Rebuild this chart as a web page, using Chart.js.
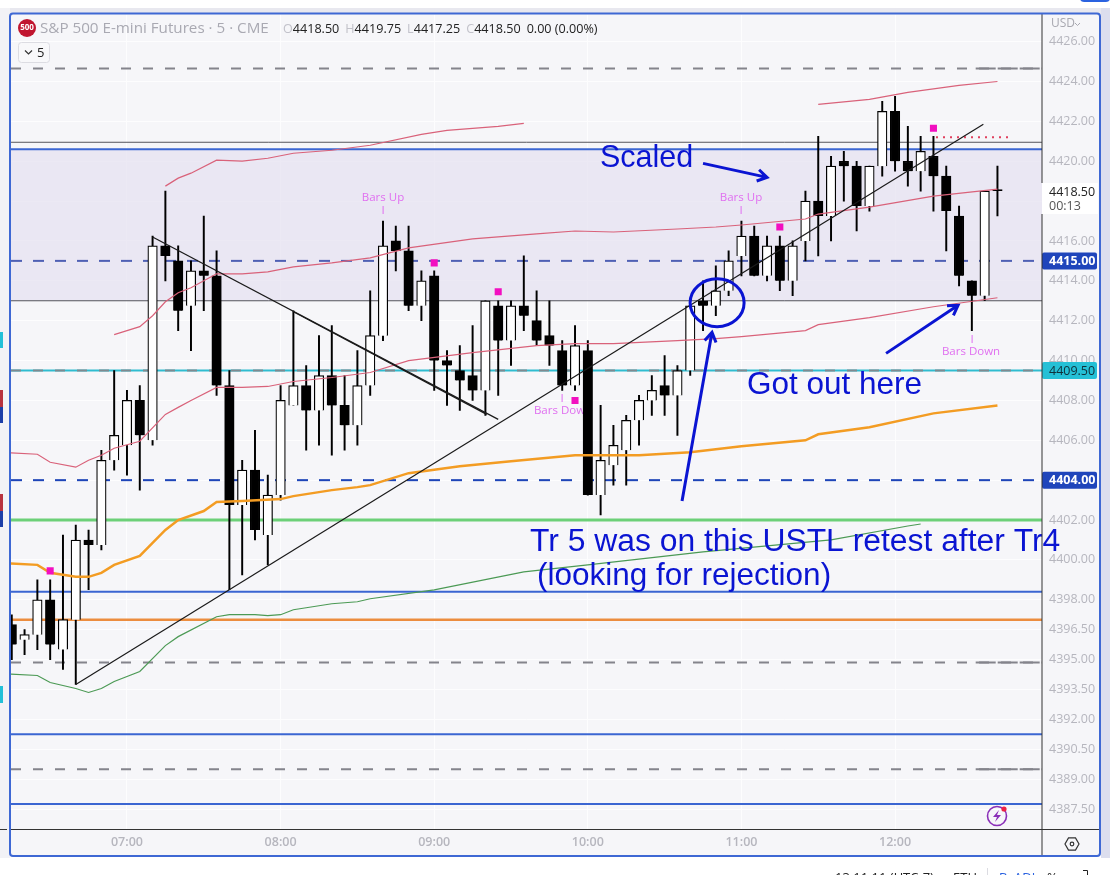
<!DOCTYPE html>
<html><head><meta charset="utf-8">
<style>html,body{margin:0;padding:0;background:#fff;overflow:hidden}canvas{display:block}</style>
<script src="https://cdn.jsdelivr.net/npm/chart.js@4"></script>
</head><body><canvas id="c" width="1110" height="875"></canvas>
<script>
// ---- bars (5 minute, index 0 = 06:15)
const opens=[4396.75,4396,4396.25,4398,4395.5,4397,4401,4400.75,4405,4405.75,4408,4406,4415.75,4415,4412.75,4414.5,4414.25,4408.75,4402.75,4404.5,4401.25,4403.25,4407.75,4408.75,4407.5,4409.25,4407.75,4406.75,4408.75,4411.25,4416,4415.5,4412.75,4414.25,4410,4409.5,4409.25,4408.5,4412.75,4411,4412.75,4412,4411.25,4410.5,4408.75,4410.5,4403.25,4404.75,4405.5,4407,4408,4408.75,4408.25,4409.5,4413,4412.75,4413.5,4415.25,4416.25,4414.25,4415.75,4414,4416,4418,4417.25,4420,4419.75,4417.75,4419.75,4422.5,4420,4419.5,4420.25,4419.25,4417.25,4414,4413.25,4418.5];
const highs=[4397.25,4396.5,4399,4399,4401.25,4401.75,4401.5,4405.5,4409.5,4408.5,4408.75,4416.25,4418.5,4415.75,4415,4417.25,4415.5,4409.5,4405,4406.5,4404.25,4408.75,4412.5,4409.75,4411.25,4411.75,4409.25,4410.5,4413.5,4417,4416.75,4416.75,4414.5,4414.5,4410.5,4410.75,4411.75,4413,4413,4413,4415.25,4413.5,4413,4411,4411.75,4411,4407.75,4406.75,4407.25,4408.25,4409.25,4410.25,4409.75,4412.75,4414,4414.75,4415.5,4417,4416.75,4416.25,4416.25,4416,4418.5,4421.25,4420.25,4420.5,4420,4419.75,4423,4423.25,4421.75,4421.25,4421.25,4419.75,4417.75,4414,4418.5,4419.75];
const lows=[4395,4395.25,4395.5,4395,4394.5,4393.75,4398.5,4400.5,4404.5,4404.25,4403.5,4405.75,4414,4411.5,4410.5,4412.5,4408.25,4398.5,4399.25,4401,4399.75,4403,4407.75,4405.5,4405.75,4405.25,4405.5,4405.75,4408.25,4411,4414.5,4412.5,4412,4408.5,4407.75,4407.5,4408,4407.25,4408.25,4409.75,4411.5,4410.75,4409.75,4408.5,4408.5,4403.25,4402.25,4403.75,4403.75,4405.75,4407.25,4407.25,4406.25,4409.25,4411.5,4412.25,4413.25,4414.25,4414.25,4414,4413.5,4413.25,4415,4415.25,4416,4418,4416.5,4417.5,4419.25,4419.5,4418.75,4418.5,4417.5,4415.5,4413.75,4411.5,4413,4417.25];
const closes=[4395.75,4396.25,4398,4395.75,4397,4401,4400.75,4405,4406.25,4408,4406.25,4415.75,4415.25,4412.5,4414.5,4414.25,4408.75,4402.75,4404.5,4401.5,4403.25,4408,4408.75,4407.5,4409.25,4407.75,4406.75,4408.75,4411.25,4415.75,4415.5,4412.75,4414,4410,4409.75,4409,4408.5,4413,4411,4412.75,4412.25,4411,4410.75,4408.75,4410.75,4403.25,4405,4405.75,4407,4408,4408.5,4408.25,4409.5,4412.75,4412.75,4413.5,4415,4416.25,4414.25,4415.75,4414,4415.75,4418,4417.25,4419.75,4419.75,4417.75,4419.75,4422.5,4420,4419.5,4420.5,4419.25,4417.5,4414.25,4413.25,4418.5,4418.5];

// ---- time axis
const hourIndex=[9,21,33,45,57,69];
const hourLabels=['07:00','08:00','09:00','10:00','11:00','12:00'];
// ---- price axis
const priceTicks=[4426,4424,4422,4420,4418,4416,4414,4412,4410,4408,4406,4404,4402,4400,4398,4396.5,4395,4393.5,4392,4390.5,4389,4387.5];

// ---- overlays: index + price
const upperA_i=[12,13,14,16,18,20,22,25,28,32,34,36,38,40];
const upperA_p=[4418.75,4419.15,4419.4,4420.05,4420,4420.15,4420.4,4420.55,4420.8,4421.35,4421.55,4421.65,4421.75,4421.9];
const upperB_i=[63,67,70,74,77];
const upperB_p=[4422.85,4423.1,4423.45,4423.8,4424];
const midBand_i=[8,10,11,12,13,14,16,18,20,22,25,28,31,36,41,44,47,52,55,57,62,63,67,72,77];
const midBand_p=[4411.3,4411.7,4412.25,4412.95,4413.4,4413.65,4414.35,4414.35,4414.45,4414.7,4414.9,4415.15,4415.65,4416.1,4416.35,4416.5,4416.45,4416.6,4416.7,4416.8,4417.1,4417.35,4417.7,4418.25,4418.6];
const lowBand_i=[-1,2,3,5,6,7,8,10,12,13,14,16,18,20,22,25,28,31,36,41,44,47,52,55,57,62,63,67,72,77];
const lowBand_p=[4405.4,4405.3,4404.9,4404.65,4405,4405.25,4405.6,4405.95,4407.3,4407.65,4408,4408.65,4408.65,4408.7,4408.95,4409.15,4409.4,4410,4410.4,4410.75,4410.85,4410.85,4411,4411.1,4411.2,4411.5,4411.8,4412.15,4412.7,4413.15];
const orange_i=[-1,2,3,5,6,7,8,10,12,13,15,16,18,21,22,25,27,28,31,35,39,44,49,53,57,62,63,67,72,77];
const orange_p=[4399.85,4399.75,4399.35,4399.15,4399.15,4399.35,4399.75,4400.2,4401.5,4402,4402.45,4402.9,4402.95,4403.05,4403.2,4403.5,4403.65,4403.75,4404.35,4404.7,4404.95,4405.25,4405.25,4405.4,4405.7,4406,4406.3,4406.65,4407.35,4407.75];
const green_i=[-1,2,3,5,6,7,8,10,12,13,16,17,19,20,21,22,23,25,27,28,33,40,45,54,64,70,71];
const green_p=[4394.3,4394.2,4393.85,4393.55,4393.35,4393.55,4393.9,4394.4,4395.7,4396.15,4397.15,4397.25,4397.25,4397.2,4397.25,4397.5,4397.6,4397.8,4397.9,4398.05,4398.5,4399.4,4399.75,4400.4,4401,4401.7,4401.8];
const markers_i=[3,33,38,44,60,72];
const markers_p=[4399.45,4414.9,4413.45,4408,4416.7,4421.65];
// ---- trend lines: [i1,p1,i2,p2]
const trendA=[11,4416.2,38,4407.05];
const trendB=[5,4393.75,75.9,4421.85];
const trendC=[22,4412.45,37.1,4407.3];
// ---- levels
const grayLevels=[4424.65,4394.85,4389.5];
const blueLevels=[4420.6,4398.4,4391.25,4387.75];
const blueDashLevels=[4415,4404];
const cyanLevel=4409.5, greenLevel=4402, orangeLevel=4397, thinLevels=[4420.95,4413];
const dottedLevel=[72.2,4421.2,78.2,4421.2];
const zone=[4420.6,4413];
// ---- drawn annotations in chart units
const arrows=[[54,4419.89,59,4419.19],[52.36,4402.95,54.7,4411.42],[68.3,4410.36,73.92,4412.77]];
const ringCentre=[55.1,4412.9];

const X_MIN=-0.06,X_MAX=80.48,Y_MIN=4386.5,Y_MAX=4427.36;
const pts=(a,b)=>a.map((v,k)=>({x:v,y:b[k]}));
const seg=t=>[{x:t[0],y:t[1]},{x:t[2],y:t[3]}];
const hline=(p,from)=>[{x:from===undefined?X_MIN:from,y:p},{x:X_MAX,y:p}];
const base={type:'line',pointRadius:0,tension:0,fill:false,clip:true};
const datasets=[];
datasets.push({...base,data:hline(zone[0]),fill:{value:zone[1]},backgroundColor:'rgba(231,228,241,0.8)',borderWidth:0,order:20});
grayLevels.forEach(p=>{
  datasets.push({...base,data:hline(p),borderColor:'#84848c',borderWidth:2,borderDash:[10,12],order:9});
  datasets.push({...base,data:hline(p,75.3),borderColor:'#84848c',borderWidth:2,borderDash:[20,2],order:9});
});
blueLevels.forEach(p=>datasets.push({...base,data:hline(p),borderColor:'#3b66d2',borderWidth:2,order:10}));
blueDashLevels.forEach((p,k)=>datasets.push({...base,data:hline(p),borderColor:k?'#1e45b8':'#4f60b4',borderWidth:2,borderDash:[11,11],order:10}));
thinLevels.forEach(p=>datasets.push({...base,data:hline(p),borderColor:'#55555c',borderWidth:1,order:10}));
datasets.push({...base,data:hline(cyanLevel),borderColor:'#2fbcd0',borderWidth:2,order:11});
datasets.push({...base,data:hline(cyanLevel),borderColor:'#7f8a90',borderWidth:2,borderDash:[10,12],order:10});
datasets.push({...base,data:hline(greenLevel),borderColor:'#6cd078',borderWidth:3,order:10});
datasets.push({...base,data:hline(orangeLevel),borderColor:'#ec8d3f',borderWidth:2.5,order:10});
datasets.push({...base,data:seg(dottedLevel),borderColor:'#e0405e',borderWidth:2,borderDash:[2,5],order:8});
// candles
datasets.push({type:'bar',label:'wick',grouped:false,order:5,barThickness:1.3,backgroundColor:'#000',
  data:highs.map((h,k)=>({x:k,y:[lows[k],h]}))});
datasets.push({type:'bar',label:'body',grouped:false,order:4,barThickness:9.5,minBarLength:1.5,borderColor:'#000',borderWidth:1.25,
  backgroundColor:opens.map((o,k)=>closes[k]>o?'#fff':'#000'),
  data:opens.map((o,k)=>({x:k,y:[Math.min(o,closes[k]),Math.max(o,closes[k])]}))});
// bands
[[upperA_i,upperA_p],[upperB_i,upperB_p],[midBand_i,midBand_p],[lowBand_i,lowBand_p]].forEach(a=>
  datasets.push({...base,data:pts(a[0],a[1]),borderColor:'#d9627a',borderWidth:1.2,order:3}));
datasets.push({...base,data:pts(orange_i,orange_p),borderColor:'#f39c23',borderWidth:2.5,order:3});
datasets.push({...base,data:pts(green_i,green_p),borderColor:'#4c9a55',borderWidth:1.2,order:3});
[trendA,trendB,trendC].forEach(t=>datasets.push({...base,data:seg(t),borderColor:'#1a1a1a',borderWidth:1.2,order:2}));
datasets.push({type:'scatter',data:pts(markers_i,markers_p),pointStyle:'rect',pointRadius:5,pointBackgroundColor:'#f20fc0',pointBorderWidth:0,order:1});

const UI='"Open Sans",sans-serif';
function box(g,x,y,w,h,col){g.fillStyle=col;g.beginPath();g.roundRect(x,y,w,h,2);g.fill();}
function text(g,s,x,y,font,col,al){g.font=font;g.fillStyle=col;g.textAlign=al||'left';g.textBaseline='middle';g.fillText(s,x,y);}

const chrome={id:'chrome',
 beforeDraw(ch){const g=ch.ctx;g.save();
  g.fillStyle='#fff';g.fillRect(0,0,1110,875);
  g.fillStyle='#e8e8ef';g.fillRect(0,8,1110,6);
  g.fillStyle='#f2f2f6';g.fillRect(0,8,10,850);
  g.fillStyle='#dcdeee';g.fillRect(1101,8,9,850);
  g.fillStyle='#f6f6f9';g.fillRect(11,14,1089,842);
  g.fillStyle='#2a62e0';g.beginPath();g.roundRect(1080,-6,30,8,4);g.fill();
  g.restore();},
 afterDatasetDraw(ch,args){ if(args.index!==0) return;
  const g=ch.ctx;g.save();
  g.beginPath();g.rect(ch.chartArea.left,ch.chartArea.top,ch.chartArea.width,ch.chartArea.height);g.clip();
  const pink='#e06ff0',f='11.5px '+UI;
  text(g,'Bars Up',383,198,f,pink,'center');text(g,'I',383,211,f,pink,'center');
  text(g,'Bars Up',741,198,f,pink,'center');text(g,'I',741,211,f,pink,'center');
  text(g,'I',562,399,f,pink,'center');text(g,'Bars Down',563,411,f,pink,'center');
  text(g,'I',972,340,f,pink,'center');text(g,'Bars Down',971,352,f,pink,'center');
  g.restore();},
 afterDatasetsDraw(ch){const g=ch.ctx,xs=ch.scales.x,ys=ch.scales.y;g.save();
  const blue='#0a14d2';
  g.strokeStyle=blue;g.lineWidth=3;
  g.beginPath();g.ellipse(xs.getPixelForValue(ringCentre[0]),ys.getPixelForValue(ringCentre[1]),27,24,0,0,Math.PI*2);g.stroke();
  arrows.forEach(a=>{const x1=xs.getPixelForValue(a[0]),y1=ys.getPixelForValue(a[1]),x2=xs.getPixelForValue(a[2]),y2=ys.getPixelForValue(a[3]);
   const t=Math.atan2(y2-y1,x2-x1),L=11;
   g.beginPath();g.moveTo(x1,y1);g.lineTo(x2,y2);
   g.moveTo(x2-L*Math.cos(t-0.55),y2-L*Math.sin(t-0.55));g.lineTo(x2,y2);g.lineTo(x2-L*Math.cos(t+0.55),y2-L*Math.sin(t+0.55));g.stroke();});
  const big='31.5px "Liberation Sans",Arial,sans-serif';
  text(g,'Scaled',600,158.5,'30.5px "Liberation Sans",Arial,sans-serif',blue);
  text(g,'Got out here',747,385,big,blue);
  text(g,'Tr 5 was on this USTL retest after Tr4',530,542,'31.85px "Liberation Sans",Arial,sans-serif',blue);
  text(g,'(looking for rejection)',537,576,big,blue);
  // header
  g.fillStyle='#c0152f';g.beginPath();g.arc(27,28,9,0,Math.PI*2);g.fill();
  text(g,'500',27,28,'bold 8px '+UI,'#fff','center');
  text(g,'S&P 500 E-mini Futures · 5 · CME',40,29,'15.2px '+UI,'#a9a9b2');
  const vf='12.6px '+UI;let x=283;
  [['O','4418.50'],['H','4419.75'],['L','4417.25'],['C','4418.50']].forEach(p=>{
    text(g,p[0],x,29,vf,'#c2c2ca');x+=g.measureText(p[0]).width;
    text(g,p[1],x,29,vf,'#222');x+=g.measureText(p[1]).width+6;});
  text(g,'0.00 (0.00%)',x,29,vf,'#222');
  g.strokeStyle='#dcdce2';g.lineWidth=1;g.fillStyle='#f8f8fa';g.beginPath();g.roundRect(18.5,42.5,31,20,3);g.fill();g.stroke();
  g.strokeStyle='#333';g.lineWidth=1.2;g.beginPath();g.moveTo(25,50.5);g.lineTo(28.5,54);g.lineTo(32,50.5);g.stroke();
  text(g,'5',37,53,'13px '+UI,'#222');
  // price scale labels
  text(g,'USD',1051,24,'12px '+UI,'#a8a8b0');
  g.strokeStyle='#a8a8b0';g.lineWidth=1;g.beginPath();g.moveTo(1075,23);g.lineTo(1077.5,25.5);g.lineTo(1080,23);g.stroke();
  g.fillStyle='#fff';g.fillRect(1042,183,56,31);
  text(g,'4418.50',1049,192,'12.5px '+UI,'#222');
  text(g,'00:13',1049,206,'12.5px '+UI,'#555');
  const lab=(s,p,bg,fg,fw)=>{const y=ys.getPixelForValue(p);box(g,1042,y-8.5,55,17,bg);text(g,s,1049,y+0.5,fw+'12.5px '+UI,fg);};
  lab('4415.00',blueDashLevels[0],'#1f45bb','#fff','bold ');
  lab('4409.50',cyanLevel,'#25c0d6','#10303a','');
  lab('4404.00',blueDashLevels[1],'#1f45bb','#fff','bold ');
  // bolt badge
  g.strokeStyle='#8a2fb8';g.lineWidth=1.6;g.beginPath();g.arc(997,816,9.5,0,Math.PI*2);g.stroke();
  g.fillStyle='#8a2fb8';g.beginPath();g.moveTo(999,810);g.lineTo(993,817);g.lineTo(997,817);g.lineTo(995,822);g.lineTo(1001,815);g.lineTo(997,815);g.closePath();g.fill();
  g.fillStyle='#ee2244';g.beginPath();g.arc(1004,809,2.6,0,Math.PI*2);g.fill();
  // settings
  g.strokeStyle='#333';g.lineWidth=1.2;g.beginPath();
  for(let k=0;k<6;k++){const a=k*Math.PI/3;const px=1072+7*Math.cos(a),py=844+7*Math.sin(a);k?g.lineTo(px,py):g.moveTo(px,py);}
  g.closePath();g.stroke();g.beginPath();g.arc(1072,844,1.8,0,Math.PI*2);g.stroke();
  g.strokeStyle='#333';g.lineWidth=1;g.beginPath();g.moveTo(11,829.5);g.lineTo(1099,829.5);g.moveTo(1042,14);g.lineTo(1042,183);g.moveTo(1042,214);g.lineTo(1042,856);g.moveTo(0,829.5);g.lineTo(7,829.5);g.stroke();
  // frame
  g.strokeStyle='#3e68d4';g.lineWidth=2;g.beginPath();g.roundRect(10,13.5,1090,842.5,3);g.stroke();
  // side tabs
  [[332,16,'#22c0d8'],[686,17,'#22c0d8'],[390,17,'#b8323f'],[407,16,'#1c3ea8'],[494,17,'#b8323f'],[511,16,'#1c3ea8']].forEach(t=>{g.fillStyle=t[2];g.fillRect(0,t[0],3,t[1]);});
  // footer, cut by the window edge
  text(g,'13:11:11 (UTC-7)',835,878,'13px '+UI,'#222');
  text(g,'ETH',953,878,'13px '+UI,'#222');
  g.fillStyle='#dcdce2';g.fillRect(987,868,1,7);
  text(g,'B',999,878,'13px '+UI,'#2a62e0');text(g,'ADJ',1014,878,'13px '+UI,'#2a62e0');
  text(g,'%',1047,878,'13px '+UI,'#222');
  g.strokeStyle='#222';g.lineWidth=1;g.beginPath();g.moveTo(1083,870.5);g.lineTo(1087.5,870.5);g.lineTo(1087.5,875);g.stroke();
  g.restore();}
};

new Chart(document.getElementById('c'),{
  data:{datasets},
  plugins:[chrome],
  options:{responsive:false,animation:false,devicePixelRatio:1,
    layout:{padding:{left:11,top:14,right:10,bottom:19}},
    plugins:{legend:{display:false},tooltip:{enabled:false}},
    scales:{
      x:{type:'linear',offset:false,min:X_MIN,max:X_MAX,
        afterBuildTicks(s){s.ticks=hourIndex.map(v=>({value:v}));},
        afterFit(s){s.height=27;},
        grid:{offset:false,color:'#fdfdfe',lineWidth:1,drawTicks:false},border:{display:false},
        ticks:{autoSkip:false,maxRotation:0,padding:6,color:'#b6b6be',font:{family:'"Open Sans"',size:12.5,weight:'600'},
          callback:v=>hourLabels[hourIndex.indexOf(v)]}},
      y:{type:'linear',position:'right',min:Y_MIN,max:Y_MAX,
        afterBuildTicks(s){s.ticks=priceTicks.map(v=>({value:v}));},
        afterFit(s){s.width=58;},
        grid:{color:'#fdfdfe',lineWidth:1,drawTicks:false},border:{display:false},
        ticks:{autoSkip:false,padding:7,color:'#b6b6be',font:{family:'"Open Sans"',size:12.5},
          callback:v=>Number(v).toFixed(2)}}
    }}
});
</script></body></html>
